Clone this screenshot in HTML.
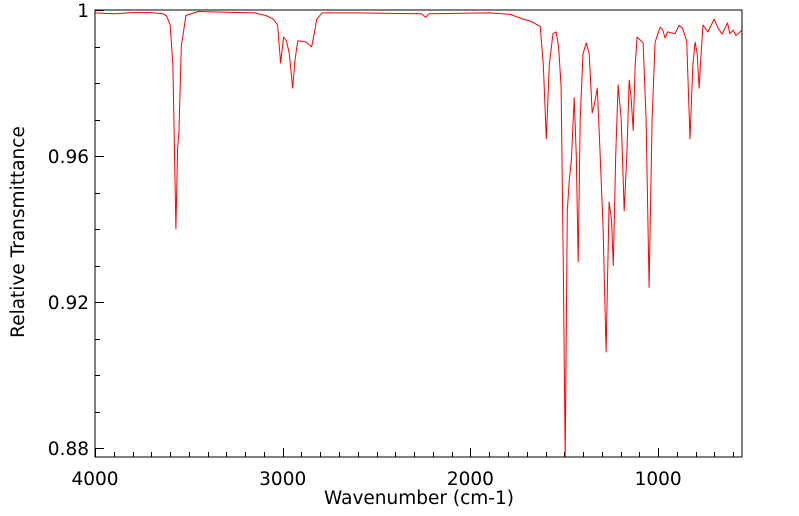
<!DOCTYPE html>
<html><head><meta charset="utf-8"><style>
html,body{margin:0;padding:0;background:#fff;}
svg{display:block;font-family:"DejaVu Sans","Liberation Sans",sans-serif;}
</style></head><body>
<svg id="chart" width="799" height="516">
<g id="ticks"></g>
<g id="labels"></g>
<path id="series" fill="none" stroke="#ff0000" stroke-width="1" stroke-linejoin="round"></path>
<rect x="95" y="10" width="647" height="447" fill="none" stroke="#000" stroke-width="1"></rect>
<text x="419" y="504" text-anchor="middle" font-size="18.5">Wavenumber (cm-1)</text>
<text transform="translate(24,232) rotate(-90)" text-anchor="middle" font-size="18.5">Relative Transmittance</text>
</svg>
<script>
const wavenumbers = [4000,3900,3800,3700,3640,3620,3600,3585,3569,3560,3553,3540,3516,3450,3300,3150,3090,3050,3027,3011,2995,2980,2965,2947,2935,2920,2904,2875,2846,2830,2819,2790,2600,2260,2239,2220,1900,1787,1720,1681,1628,1612,1596,1580,1560,1543,1530,1517,1505,1495,1484,1473,1462,1447,1436,1426,1415,1400,1383,1367,1351,1340,1324,1310,1293,1277,1261,1248,1239,1226,1213,1197,1181,1167,1154,1144,1133,1122,1112,1080,1064,1048,1032,1016,989,975,963,950,935,910,888,870,848,830,815,803,792,782,771,761,735,702,680,660,630,618,600,585,553];
const transmittance = [0.9992,0.9990,0.9993,0.9993,0.9990,0.9985,0.9960,0.9850,0.9400,0.9620,0.9663,0.9900,0.9985,0.9996,0.9994,0.9992,0.9985,0.9975,0.9959,0.9855,0.9926,0.9915,0.9880,0.9786,0.9860,0.9915,0.9915,0.9912,0.9899,0.9940,0.9975,0.9992,0.9992,0.9990,0.9980,0.9990,0.9992,0.9988,0.9975,0.9970,0.9955,0.9850,0.9647,0.9850,0.9935,0.9940,0.9900,0.9790,0.9300,0.8700,0.9450,0.9534,0.9590,0.9760,0.9600,0.9310,0.9700,0.9880,0.9910,0.9880,0.9718,0.9740,0.9786,0.9620,0.9403,0.9063,0.9474,0.9420,0.9300,0.9600,0.9795,0.9700,0.9450,0.9600,0.9808,0.9760,0.9670,0.9850,0.9926,0.9910,0.9700,0.9240,0.9700,0.9912,0.9953,0.9945,0.9923,0.9940,0.9938,0.9935,0.9958,0.9950,0.9915,0.9647,0.9850,0.9912,0.9880,0.9786,0.9880,0.9959,0.9940,0.9975,0.9950,0.9934,0.9965,0.9935,0.9945,0.9930,0.9945];
const xTickLabels = [4000,3000,2000,1000];
const yTickLabels = ["1","0.96","0.92","0.88"];
const yTickValues = [1,0.96,0.92,0.88];

const X0=95,X1=742,Y0=10,Y1=457;
const W_LEFT=4000, W_RIGHT=4000-(X1-94)/0.188;
const T_TOP=1, T_BOT=1-(Y1-10)/3650;
function xs(w){return X0+(W_LEFT-w)/(W_LEFT-W_RIGHT)*(X1-X0);}
function ys(t){return Y0+(T_TOP-t)/(T_TOP-T_BOT)*(Y1-Y0);}

const NS="http://www.w3.org/2000/svg";
let d="";
for(let i=0;i<wavenumbers.length;i++){
  const x=xs(wavenumbers[i]); let y=ys(transmittance[i]); if(y>Y1) y=Y1;
  d+=(i?"L":"M")+x.toFixed(1)+","+y.toFixed(1);
}
document.getElementById("series").setAttribute("d",d);

const tg=document.getElementById("ticks"), lg=document.getElementById("labels");
function line(x1,y1,x2,y2,name){
  const l=document.createElementNS(NS,"line");
  l.setAttribute("x1",x1);l.setAttribute("y1",y1);l.setAttribute("x2",x2);l.setAttribute("y2",y2);
  l.setAttribute("stroke","#000");l.setAttribute("stroke-width","1");
  
  
  tg.appendChild(l);
}
for(let w=4000; w>=W_RIGHT; w-=100){
  const x=Math.round(xs(w))+0.5, major=(w%1000===0);
  line(x,Y1,x,Y1-(major?9:5),major?"x-major-tick":"x-minor-tick");
}
for(let k=0;k<=12;k++){
  const t=1-k*0.01; if(t<T_BOT) break;
  const y=Math.round(ys(t))+0.5, major=(k%4===0);
  line(X0,y,X0+(major?9:5),y,major?"y-major-tick":"y-minor-tick");
}
xTickLabels.forEach(v=>{
  const t=document.createElementNS(NS,"text");
  t.setAttribute("x",xs(v));t.setAttribute("y",485);t.setAttribute("text-anchor","middle");t.setAttribute("font-size","18.5");
  t.textContent=v;
  
  
  lg.appendChild(t);
});
yTickValues.forEach((v,i)=>{
  const t=document.createElementNS(NS,"text");
  t.setAttribute("x",89);t.setAttribute("y",ys(v)+7);t.setAttribute("text-anchor","end");t.setAttribute("font-size","18.5");
  t.textContent=yTickLabels[i];
  
  
  lg.appendChild(t);
});
</script>
</body></html>
